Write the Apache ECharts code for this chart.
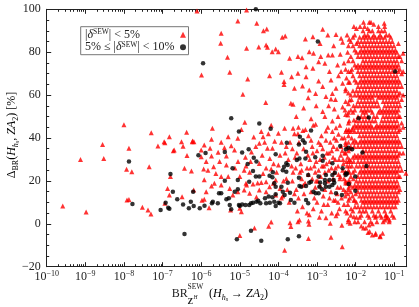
<!DOCTYPE html>
<html><head><meta charset="utf-8">
<script src="https://cdn.jsdelivr.net/npm/echarts@6/dist/echarts.min.js"></script>
<style>html,body{margin:0;padding:0;background:#fff}#c{width:419px;height:307px}</style>
</head><body><div id="c"></div>
<script>
// ---------- axis ticks ----------
const xMajorExponents = [-10,-9,-8,-7,-6,-5,-4,-3,-2,-1];
const xMinorMultipliers = [2,3,4,5,6,7,8,9];
const yTicks = [-20,0,20,40,60,80,100];

// ---------- red series: |delta^SEW| < 5% ----------
const redLeft = [
[2.6e-10,8.3],[1.05e-9,5.5],[7.5e-10,30],[3e-9,30.5],[2.8e-9,37],[1e-8,46.2],[1.35e-8,35.2],[1.17e-8,25.4],[1.6e-8,24.3],[1.2e-8,11.1],[1.35e-8,11.3],[4.5e-8,26.6],[3e-8,7.7],[4.2e-8,6.4],[5e-8,4.6],[5.1e-8,42.5],[7.6e-8,36.3],[1.1e-7,38.3],[1.15e-7,37.8],[1.5e-7,40.6],[2e-7,34.4],[3.1e-7,38.3],[3.4e-7,36.2],[4.2e-7,42.7],[4.3e-7,31.8],[5.9e-7,38.3],[6.5e-7,38.3],[1.15e-7,9.6],[1.35e-7,16.5],[1.5e-7,13.4],[1.6e-7,22],[1.9e-7,34],[3.2e-7,12.6],[3.7e-7,25.9],[5.6e-7,24.6],[6.4e-7,15.8],[6e-7,38.6],[7.8e-7,99.2],[1.02e-6,69.4],[1.0e-6,34.4],[1.2e-6,36.7],[1.05e-6,11],[1.16e-6,25.5],[1.2e-6,11.4],[1.35e-6,15],[1.5e-6,25],[1e-6,31.3],[1.35e-6,29],[1.6e-6,7.5]
];
const redMid = [
[1.95e-6,44.5],[1.85e-6,39.4],[3.3e-6,38],[5e-6,40.6],[8.9e-6,39.9],[1.35e-5,47.3],[3.6e-5,43],[4e-5,40.6],[1e-4,42.2],[1.2e-4,38],[1.7e-6,35.2],[2.75e-6,33.3],[6e-6,36.4],[7.3e-6,34.4],[3.2e-5,37.5],[5.2e-5,35.2],[7e-5,35.2],[1.85e-6,31.6],[3e-6,29],[4.5e-6,31.6],[2.1e-6,26.6],[4.5e-6,27.4],[1.45e-5,27],[3.2e-5,28.1],[4.8e-5,26],[1e-4,27.4],[3.3e-6,22],[5e-6,22],[1e-5,22],[1.45e-5,18.9],[4.8e-5,19.6],[8.5e-5,20.4],
[1.85e-6,17.6],[2.2e-6,18.9],[3.3e-6,18.1],[5.5e-6,16.5],[6.6e-6,13.4],[1e-5,7.2],[8.9e-6,15],[1.3e-5,15.8],[1.5e-5,18.1],[1.8e-5,14.2],[2.2e-5,18.6],[3.2e-5,15.8],[3.6e-5,19.2],[4.8e-5,15],[5.9e-5,17.3],[7.4e-5,18.9],[8.5e-5,13.4],[1.1e-4,16.5],[1.3e-4,13],[5.8e-6,6.4],
[4.7e-5,56.6],[1.2e-5,60.4],[2.1e-4,56.2],
[1.4e-5,31],[2e-5,33.5],[2.6e-5,36],[6e-5,30.5],[8e-5,38.5],[9e-6,29],[1.8e-5,24],[4e-5,23.5],[6.5e-5,25.5],[2.4e-6,23.5],[7.5e-6,26],[1.2e-6,20.5],[2.7e-5,12.5],[4e-6,35.5],[1.1e-5,44],[2.3e-5,40.5],[6.5e-5,46],
[1.3e-5,25],[1.9e-5,29],[2.9e-5,19],[3.8e-5,32],[4.4e-5,38],[5.5e-5,42],[7.5e-5,28],[9e-5,24],[1.1e-4,32],[1.35e-4,20],[1.6e-4,36],[1.6e-4,21]
];
const redRight = [
[1.45e-4,44.5],[2.4e-4,44.5],[3.2e-4,42],[4.3e-4,43.5],[9.2e-4,46.4],[1.7e-3,43.3],[3.1e-3,44.8],[3.6e-3,41.7],[5.1e-3,40.1],[2.6e-4,42],[3.3e-4,45],[6e-4,41],[8e-4,46],[1.3e-3,41],[1.9e-3,45],[2.8e-3,40],[3.9e-3,46],[5.8e-3,44],
[1.5e-4,33],[1.8e-4,30],[2.3e-4,35],[2.8e-4,26],[3e-4,33],[3.8e-4,28],[4.5e-4,35],[5.5e-4,26],[6.5e-4,30],[7.5e-4,36],[8.5e-4,27],[1e-3,34],[1.1e-3,25],[1.25e-3,37],[1.5e-3,27],[1.8e-3,33],[2e-3,25],[2.2e-3,38],[2.6e-3,31],[3e-3,26],[3.3e-3,35],[3.7e-3,30],[4e-3,22],[4.4e-3,40],[4.8e-3,28],[5.2e-3,33],[6e-3,27],[6.5e-3,41],[7e-3,30],
[2.3e-4,20],[2.9e-4,16],[4e-4,21],[4.6e-4,14],[7.5e-4,21],[9e-4,17],[1.25e-3,22],[1.45e-3,13],[1.9e-3,20],[2.3e-3,15],[2.6e-3,21],[3.4e-3,17],[3.9e-3,21],[4.9e-3,16],[5.5e-3,19],[6.3e-3,14],[7e-3,20],
[1.2e-4,12],[1.9e-4,10],[2.6e-4,14],[3.1e-4,6],[4.2e-4,8],[5.5e-4,5],[8e-4,7],[1e-3,10],[1.3e-3,6],[1.9e-3,9],[2.4e-3,5],[3e-3,11],[3.8e-3,7],[5e-3,9],[6e-3,5],[7e-3,12],
[7e-4,39],[9e-4,24],[1.2e-3,30],[1.4e-3,35],[1.6e-3,24],[2.1e-3,29],[2.4e-3,34],[2.8e-3,24],[3.2e-3,39],[3.5e-3,27],[4.1e-3,32],[4.6e-3,25],[5.5e-3,37],[6.2e-3,31],[6.8e-3,24],[1.1e-3,38],[1.7e-3,39],[2.5e-3,43],[4.2e-3,36],[5.7e-3,29],[6.6e-3,17],[4.3e-3,12],[3.3e-3,14],[2.7e-3,11],[1.6e-3,16],[1.2e-3,18],[8.5e-4,12],[6e-4,23],[5e-4,44],[3.6e-4,24],[2e-4,38],[1.7e-4,16],
[2.2e-4,27],[2.7e-4,31],[3.4e-4,38],[4e-4,25],[4.9e-4,19],[5.8e-4,32],[6.8e-4,26],[7.8e-4,33],[9.5e-4,29],[1.05e-3,20],[1.35e-3,27],[1.55e-3,31],[1.75e-3,28],[2.05e-3,33],[2.35e-3,26],[2.65e-3,36],[2.95e-3,30],[3.6e-3,23],[4.5e-3,34],[5.3e-3,24],[3.5e-3,10],[2.1e-3,12],[1.5e-3,9],[9.5e-4,20],[7e-4,15],[4.4e-4,18],[3.3e-4,12],[2.4e-4,24],
[7e-3,66],[8e-3,72],[7.8e-3,58],[6.8e-3,48],[8.2e-3,44],[7.2e-3,35],[8e-3,27],[6e-3,19],[9e-3,11],[8.8e-3,55],[8.5e-3,83],[6e-3,88],[9e-3,92],[1.05e-2,91],[1.3e-2,92],[1.6e-2,94],
[4.7e-3,30],[5e-3,21],[5.9e-3,36],[6.3e-3,9],[6.9e-3,27],[7.3e-3,18],[7.9e-3,40],[8.3e-3,13],[8.9e-3,29],[9.2e-3,36],[9.6e-3,8],[1e-2,14],[4.1e-3,17],[5.4e-3,13],[6.7e-3,44],[8.7e-3,21],[9.4e-3,43],[7.6e-3,7]
];
const redUpper = [
[1.5e-5,99.7],[8.9e-6,94.5],[2.75e-5,93.5],[4.1e-5,90],[5e-5,90.8],[3.3e-6,88.8],[3.2e-6,84.2],[1.5e-5,81.8],[3.1e-5,82.4],[4.8e-5,83.4],[5.2e-5,82.3],[6.9e-5,80.2],[8.5e-5,81.5],[1e-4,80.2],[1.26e-4,87],[1.5e-4,87.5],[4.8e-6,77.6],[5.5e-6,70.6],[1.6e-5,67.5],[5.9e-5,69],[1.2e-4,70.6],[1.4e-4,65],[1.4e-3,90.7],[3.1e-3,88.3],[5e-4,86.2],[7.8e-4,87.2],[1.9e-3,88],[4.2e-3,86.5],[4.6e-3,84.6],[0.17,79.5],[1.95e-4,77.2],[3.2e-4,78],[4.1e-4,77.4],[6.3e-4,80.2],[8.1e-4,79.5],[1.25e-3,78],[1.95e-3,78.7],[2.5e-3,78.7],[5.2e-4,73.2],[7.8e-4,72.5],[1.1e-3,75.6],[1.6e-3,74.8],[2.1e-3,71],[1.4e-4,66.3],[2.2e-4,68.6],[3.2e-4,70.2],[5.2e-4,68.6],[1.1e-3,66.6],[1.4e-3,64],[2.6e-4,63.2],[4.2e-4,64.2],[6.3e-4,62.4],[2.3e-3,67],[3.1e-3,63.2],[3.4e-3,74],[4.2e-3,71],[2.5e-3,60.8],[4.6e-3,65.5],[9.2e-4,60.8],[2.4e-4,55.7],[5.9e-4,58.8],[1.7e-3,59.3],[2.3e-3,58.2],[3e-3,58],[7e-3,57.7],[4.6e-3,54.5],[2.8e-3,53.5],[1.4e-3,52.3],[2.5e-3,47.9],[6.3e-3,50.7],[9e-3,48.4],[5e-3,75],[5.8e-3,68],[6.2e-3,80],[5.5e-3,62],[6.8e-3,86],[4e-3,79],[3.6e-3,69],[2.9e-4,50],[4.5e-4,54],[7e-4,49],[9.5e-4,55],[1.6e-3,50],[2e-3,55],[3.5e-3,50],[5.3e-3,53],[2.5e-2,94],[5.5e-2,93.5],[1.2e-3,84],[2.7e-3,83]
];
const redLow = [
[1e-5,-5.5],[2.4e-5,-2],[5.6e-5,-1.2],[6.5e-5,0.8],[1.45e-4,-12.3],[2e-4,0.5],[2.1e-4,-1.3],[3.2e-4,1],[3.5e-4,1.8],[6e-4,1.3],[6.2e-4,-0.2],[6e-4,-6.8],[6.3e-4,4.2],[1.15e-3,3],[1.7e-3,2.8],[2.2e-3,0.2],[2.3e-3,-6.3],[3.1e-3,3.8],[3.4e-3,4.9],[4.5e-3,-10.7],[4.4e-3,-0.7],[6.4e-3,1],[7.2e-3,0.2],[9e-3,3.3],[1.6e-2,-2],[2.1e-2,-4],[2.3e-2,-3.6],[2.7e-2,-5.2],[3.3e-2,-4.4],[4.3e-2,-5.7],[5e-2,-4.4],[6e-2,4],[7.5e-2,1.8],[3.4e-2,3.6],[5.7e-2,1.8],[6.3e-2,2.6],[0.2,23.6],[1.1e-5,5.6],[2.2e-2,-0.6]
];
// dense cluster, read column by column: [BR, [Delta values]]
const blobCols = [
[5.5e-3,[6,15,20,24,33,38,43,51,57,63,72]],
[6.5e-3,[2,11,16,20,25,29,34,38,43,47,52,56,61,66,71,76,83]],
[7.5e-3,[4,15,22,29,36,43,53,60,71,78,85]],
[8.5e-3,[6,17,24,31,38,45,52,62,69,76,87]],
[9.5e-3,[1,11,18,25,32,39,46,53,60,67,74,81,88]],
[1.05e-2,[3,10,17,20,27,31,38,45,48,55,62,66,73,80,84]],
[1.15e-2,[1,8,15,18,22,29,32,36,43,46,50,57,60,64,71,74,78,85]],
[1.27e-2,[3,6,13,17,20,24,27,31,38,41,45,48,55,59,62,66,69,73,80,83,87]],
[1.4e-2,[-1,4,8,11,15,18,22,25,29,32,36,39,43,46,50,53,57,60,64,67,71,74,78,81,85]],
[1.55e-2,[6,10,13,17,20,24,27,31,34,38,41,45,48,52,55,59,62,66,69,73,76,80,83,87,90]],
[1.7e-2,[1,8,11,15,18,22,25,29,32,36,39,43,46,50,53,57,60,64,67,71,74,78,81,85,88,92]],
[1.85e-2,[-2,6,10,13,17,20,24,27,31,34,38,41,45,48,52,55,59,62,66,69,73,76,80,83,87]],
[2.05e-2,[4,8,11,15,18,22,25,29,32,36,39,43,46,50,53,57,60,64,67,71,74,78,81,85,88,91]],
[2.25e-2,[3,10,13,17,20,24,27,31,34,38,41,45,48,55,59,62,66,69,73,76,80,83,87,90,94]],
[2.45e-2,[1,8,11,15,18,22,25,29,32,36,39,43,46,53,57,60,64,67,71,74,78,81,85]],
[2.7e-2,[0,6,10,13,17,20,24,27,31,34,38,41,45,48,52,55,59,62,66,69,73,76,80,83,87,90]],
[2.95e-2,[4,8,11,15,18,22,25,29,32,36,39,43,50,57,60,64,67,71,74,78,81,85,88,93]],
[3.25e-2,[-5,3,10,13,17,20,24,27,31,34,38,41,45,48,55,62,66,69,73,76,80,83,87]],
[3.55e-2,[1,8,11,15,18,22,25,29,32,36,39,43,46,50,57,60,64,67,71,74,78,81,85]],
[3.9e-2,[6,10,13,17,20,24,27,31,34,38,41,45,52,55,59,62,66,69,73,76,80,83,87,90,92]],
[4.3e-2,[-6,4,8,11,15,18,22,25,29,32,36,39,43,46,53,60,64,67,71,74,78,81,85,88]],
[4.7e-2,[3,10,13,17,20,24,27,31,34,38,41,45,48,52,59,62,66,69,73,76,80,83,87,90]],
[5.15e-2,[1,8,11,15,18,22,25,29,32,36,39,43,46,50,53,57,60,64,67,71,74,78,81,85]],
[5.65e-2,[6,10,13,17,20,24,27,31,34,38,41,45,48,52,55,59,62,66,69,73,76,80,83,87,90,92]],
[6.2e-2,[4,8,11,15,18,22,25,29,32,36,39,43,46,50,53,57,60,64,67,71,74,78,81,85,88]],
[6.8e-2,[3,10,13,17,20,24,27,31,34,38,41,45,48,52,55,59,62,66,69,73,76,80,83]],
[7.4e-2,[1,8,11,15,18,22,25,29,32,36,39,43,46,50,53,57,60,64,67,71,74,78,81,85,88]],
[8.1e-2,[6,10,13,17,20,24,27,31,34,38,41,45,48,52,55,59,62,66,69,73,76,80,83,87]],
[8.9e-2,[4,8,11,15,18,22,25,29,32,36,39,43,46,50,53,57,60,64,67,71,74,78,81,85]],
[9.8e-2,[3,10,13,17,20,24,27,31,34,38,41,45,48,52,55,59,62,66,69,73,76,80,83]],
[0.107,[8,11,15,18,22,25,29,32,36,39,43,46,50,53,57,60,64,67,71,74,78,81]],
[0.117,[10,13,17,20,24,27,31,34,38,41,45,48,52,55,59,62,66,69,73,76,80]],
[0.128,[11,15,18,22,25,29,32,36,39,43,46,50,53,57,60,64,67,71,74,78,84]],
[0.14,[16,22,27,33,38,44,50,55,61,66,72,78]],
[0.155,[25,36,47,58,64,70,76]],
[0.17,[33,45,60,71]]
];

// ---------- black series: 5% <= |delta^SEW| < 10% ----------
const blackPts = [
[1.12e-6,74.8],[8.5e-7,32],[1.3e-6,33],[1.35e-8,29],[1.66e-8,9.2],[8.9e-8,6.4],[1.2e-7,9.8],[1.4e-7,7.5],[1.5e-7,7],[1.6e-7,23.2],[1.85e-7,15],[2.4e-7,11.4],[3.4e-7,9],[3.7e-7,-4.8],[4.8e-7,7.2],[5.4e-7,10.3],[6.2e-7,15],[6.4e-7,8.3],[9.2e-7,7.2],[1.22e-6,8.4],
[6e-6,49.2],[3.2e-5,46.8],[9.5e-6,43],[6.3e-5,44.3],[7e-4,43.5],[3.6e-4,40.6],[4.3e-4,39],[4.8e-4,37.8],[1.65e-4,37.8],[3.4e-4,37],[1.2e-2,49.2],[2.2e-2,49.6],[1.05e-3,85],[0.105,71],[4.1e-6,33.5],[1.15e-5,33.2],[1.7e-5,34.7],[8.5e-5,32.4],[5.2e-4,33.6],[9e-4,31],[1.4e-3,31.7],[4e-3,36.3],[5.6e-3,34.7],[6.5e-3,35.5],[8.1e-3,34.7],[1.5e-2,33.2],[2.3e-5,30.8],[5e-4,30.5],[2.6e-5,100],
[2.7e-5,29],[1.6e-5,27.9],[6.5e-6,25.9],[2.2e-5,24.6],[2.6e-5,22],[5.9e-5,22.4],[7.2e-5,24],[1.4e-4,26.6],
[1.4e-3,29.4],[1.6e-4,28.2],[2.5e-3,28.2],[1.3e-4,25],[1.9e-2,27],[5.9e-4,22.8],[3.4e-4,21.5],[1.1e-3,22],[1.7e-3,22.8],[1.6e-3,20.4],[2.5e-3,22.8],[2.7e-3,20.4],[5.5e-3,22.8],[6e-3,23.5],[9.8e-3,22],[7e-4,19.6],[1.2e-3,19.3],
[1.75e-4,19.1],[3.9e-4,17.3],[5.2e-4,17.6],[6.3e-4,19.1],[8.1e-4,15],[1.1e-3,14.2],[1.35e-3,16.1],[1.7e-3,17.3],[2.1e-3,17.3],[2.5e-3,18.1],[3.1e-3,14.2],[4.4e-3,13.4],[6.6e-3,18.6],[9.8e-3,15.4],[1.45e-4,13.4],[1.3e-4,15],[1.1e-4,9.6],[2.6e-4,9.8],[5.2e-4,11.1],[5.9e-4,9.6],
[8.4e-6,-7.2],[1.95e-5,-3.2],[3.6e-5,-7.9],[1.75e-4,-7.2],[3.4e-4,-5.8],
[1.9e-6,9.6],[2.0e-6,10.3],[2.7e-6,9.6],[2.9e-6,14.2],[3.3e-6,14.3],[4.5e-6,11.4],[5.2e-6,11.9],[5.5e-6,8.8],[6e-6,6.8],[7.4e-6,15],[8.9e-6,16.1],[9.5e-6,8.8],[1e-5,8.3],[1.15e-5,9],[1.4e-5,8.8],[1.75e-5,8.8],[1.95e-5,9.6],[2.2e-5,9.8],[2.7e-5,10.3],[3.0e-5,10.8],[3.4e-5,9.6],[4.5e-5,11.9],[4.8e-5,9.6],[6e-5,9.8],[7e-5,12.4],[8.5e-5,13.8],
[1.2e-4,17.3],[8.5e-5,17.3],[5.6e-5,12.7],[7.8e-5,10.3],[1e-4,9.8],[8.5e-5,8.3],[2e-4,14.5],[2.1e-4,11.1],[3.5e-4,17.6],[9.2e-4,14.2],[1.15e-3,17.3],[1.6e-3,18.9],[2.1e-3,20.4],[2.8e-3,19.1],[2.9e-3,23.8],[4.6e-3,25.9],[5.6e-3,23.5],[3e-4,29.7],[3.5e-4,30.5],[1.75e-4,27.4],[1.6e-4,24.3],[7e-5,21.7],[7.8e-5,18.9],[3.2e-5,22],[1.75e-5,19.6],[8.9e-6,20.4],[4.1e-6,20.1]
];

// ---------- build ----------
const redData = redLeft.concat(redMid, redRight, redUpper, redLow);
blobCols.forEach(c => c[1].forEach(v => redData.push([c[0], v])));
const xMinorTicks = [];
xMajorExponents.concat([0]).forEach(e => xMinorMultipliers.forEach(m => xMinorTicks.push(m * Math.pow(10, e))));

const SERIF = "'Liberation Serif', 'DejaVu Serif', serif";
const INK = '#222';
const X_MIN = 1e-10, X_MAX = 0.21;

function xLabel(v) {
  const lg = Math.log10(v), e = Math.round(lg);
  if (Math.abs(lg - e) > 1e-6 || xMajorExponents.indexOf(e) < 0) return '';
  return '{b|10}{s|' + (e < 0 ? '\u2212' : '') + Math.abs(e) + '}';
}
const xLabelRich = {
  b: {fontFamily: SERIF, fontSize: 12, color: INK, lineHeight: 14},
  s: {fontFamily: SERIF, fontSize: 8, color: INK, lineHeight: 8, verticalAlign: 'top'}
};
function logAxis(pos, major, labels) {
  return {
    type: 'log', logBase: 10, min: X_MIN, max: X_MAX, position: pos,
    axisLine: {show: major, onZero: false, lineStyle: {color: INK, width: 1}},
    axisTick: major ? {show: true, inside: true, length: 4.5, lineStyle: {color: INK}}
                    : {show: true, inside: true, length: 2.5, customValues: xMinorTicks, lineStyle: {color: INK}},
    axisLabel: labels ? {show: true, interval: 0, formatter: xLabel, rich: xLabelRich, margin: 3, showMaxLabel: false}
                      : {show: false},
    splitLine: {show: false}
  };
}
function linAxis(pos, labels) {
  return {
    type: 'value', min: -20, max: 100, interval: 20, position: pos,
    axisLine: {show: true, onZero: false, lineStyle: {color: INK, width: 1}},
    axisTick: {show: true, inside: true, length: 4.5, lineStyle: {color: INK}},
    minorTick: {show: true, splitNumber: 4, length: 2.5, lineStyle: {color: INK}},
    axisLabel: labels ? {show: true, fontFamily: SERIF, fontSize: 12, color: INK, margin: 6,
                         formatter: v => (yTicks.indexOf(v) >= 0 ? (v < 0 ? '\u2212' + (-v) : '' + v) : '')}
                      : {show: false},
    splitLine: {show: false}
  };
}
const titleRich = {
  r: {fontFamily: SERIF, fontSize: 12, color: INK, lineHeight: 16},
  i: {fontFamily: SERIF, fontSize: 12, fontStyle: 'italic', color: INK, lineHeight: 16},
  s: {fontFamily: SERIF, fontSize: 8, fontStyle: 'italic', color: INK, lineHeight: 10, verticalAlign: 'bottom'},
  su: {fontFamily: SERIF, fontSize: 8, color: INK, lineHeight: 10, verticalAlign: 'bottom'},
  ss: {fontFamily: SERIF, fontSize: 6, fontStyle: 'italic', color: INK, lineHeight: 6, verticalAlign: 'bottom'}
};
const legRich = {
  r: {fontFamily: SERIF, fontSize: 12, color: INK, lineHeight: 13, align: 'left'},
  it: {fontFamily: SERIF, fontSize: 12, fontStyle: 'italic', color: INK, lineHeight: 13, align: 'left'},
  sp: {fontFamily: SERIF, fontSize: 7.5, color: INK, lineHeight: 8, verticalAlign: 'top', align: 'left'}
};

const chart = echarts.init(document.getElementById('c'), null, {renderer: 'canvas'});
chart.setOption({
  animation: false,
  backgroundColor: '#fff',
  grid: {left: 46.7, top: 9.3, right: 12.3, bottom: 40.3, containLabel: false},
  xAxis: [logAxis('bottom', true, true), logAxis('bottom', false, false), logAxis('top', true, false), logAxis('top', false, false)],
  yAxis: [linAxis('left', true), linAxis('right', false)],
  legend: {
    orient: 'vertical', left: 80.7, top: 26.7, align: 'right',
    itemWidth: 6, itemHeight: 6, itemGap: 0,
    padding: [1.5, 2.5, 1.5, 4.3],
    backgroundColor: '#fff', borderColor: '#777', borderWidth: 1, borderRadius: 0,
    selectedMode: false,
    data: ['lt5', 'lt10'],
    textStyle: {width: 90, rich: legRich},
    formatter: n => n === 'lt5' ? '{r||}{it|\u03b4}{sp|SEW}{r|| < 5%}' : '{r|5% \u2264 |}{it|\u03b4}{sp|SEW}{r|| < 10%}'
  },
  graphic: [
    {type: 'text', x: 171.7, y: 294, style: {text: 'BR', fontFamily: SERIF, fontSize: 12, fill: INK, align: 'left', verticalAlign: 'middle'}},
    {type: 'text', x: 187.5, y: 287.5, style: {text: 'SEW', fontFamily: SERIF, fontSize: 7.5, fill: INK, align: 'left', verticalAlign: 'middle'}},
    {type: 'text', x: 187.5, y: 301.5, style: {text: 'Z', fontFamily: SERIF, fontSize: 8.5, fontWeight: 'bold', fill: INK, align: 'left', verticalAlign: 'middle'}},
    {type: 'text', x: 193.6, y: 298, style: {text: 'H', fontFamily: SERIF, fontSize: 5.5, fontStyle: 'italic', fill: INK, align: 'left', verticalAlign: 'middle'}},
    {type: 'text', x: 209, y: 294, style: {text: '{r|(}{i|H}{s|h}{ss|s}{r| \u2192 }{i|ZA}{su|2}{r|)}', rich: titleRich, align: 'left', verticalAlign: 'middle'}},
    {type: 'text', x: 12, y: 135, rotation: Math.PI / 2, style: {text: '{r|\u0394}{su|BR}{r|(}{i|H}{s|h}{ss|s}{r|, }{i|ZA}{su|2}{r|) [%]}', rich: titleRich, align: 'center', verticalAlign: 'middle'}}
  ],
  series: [
    {name: 'lt5', type: 'scatter', xAxisIndex: 0, yAxisIndex: 0, data: redData,
     symbol: 'triangle', symbolSize: [5, 5], itemStyle: {color: '#ff0000'}, z: 2, silent: true, large: false},
    {name: 'lt10', type: 'scatter', xAxisIndex: 0, yAxisIndex: 0, data: blackPts,
     symbol: 'circle', symbolSize: 4.5, itemStyle: {color: '#000'}, z: 3, silent: true}
  ]
});
</script>
</body></html>
